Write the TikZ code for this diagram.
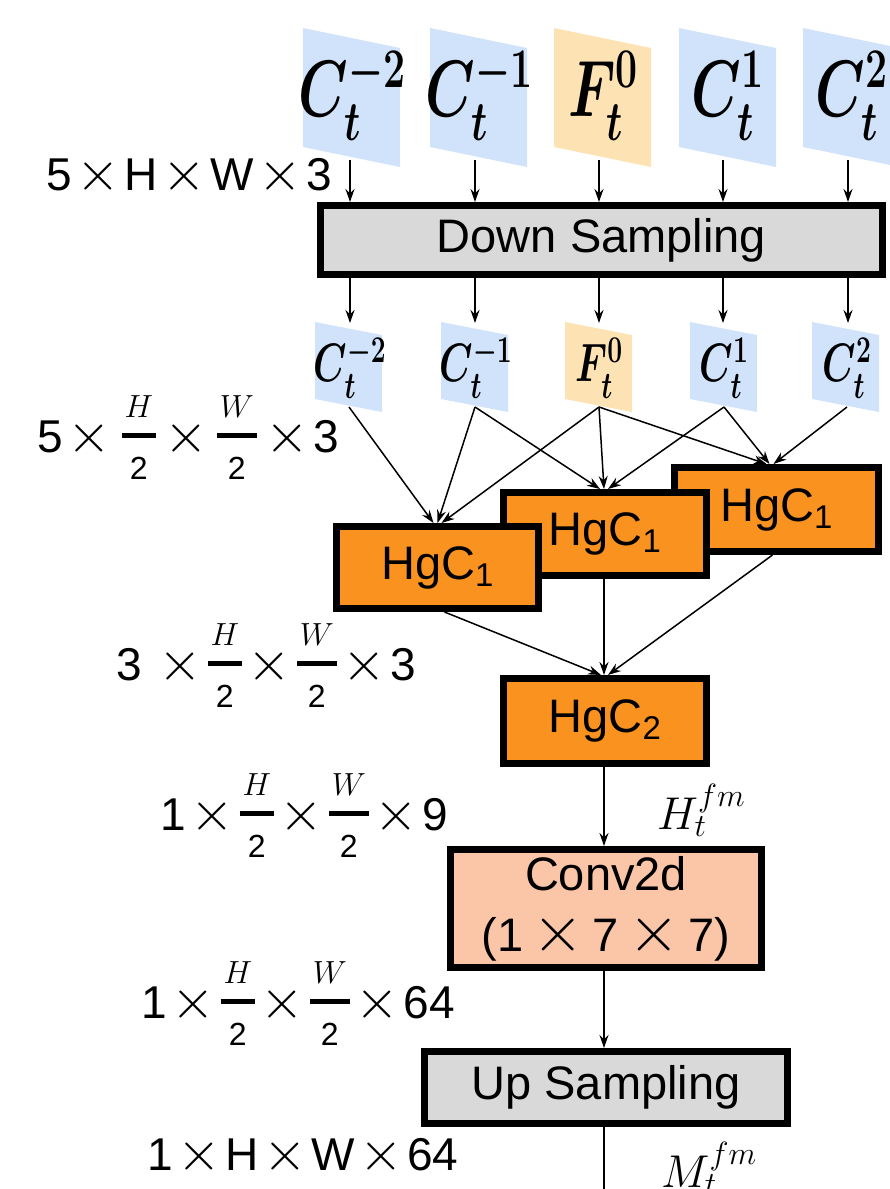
\RequirePackage{fix-cm}
\documentclass[tikz,border=0pt]{standalone}
\usepackage{amsmath}
\usepackage{fontspec}
\setmainfont{Liberation Sans}
\usetikzlibrary{arrows.meta}
\definecolor{fblue}{HTML}{D0E3FA}
\definecolor{forg}{HTML}{FDE3B3}
\definecolor{hgc}{HTML}{F9921F}
\definecolor{convc}{HTML}{FBC6A8}
\definecolor{gbox}{HTML}{D9D9D9}
\newcommand\hwfrac[1]{\raisebox{9pt}{\fontsize{32}{32}\selectfont$\displaystyle\genfrac{}{}{5pt}{}{\kern3pt#1\kern3pt}{\vrule height27pt width0pt\mathrm{2}}$}}
\newcommand\X{\hspace{4.5pt}{\fontsize{56}{56}\selectfont$\times$}\hspace{4.5pt}}
\newcommand\CX{\smash{\fontsize{66}{66}\selectfont$\times$}}
\begin{document}
\begin{tikzpicture}[x=1pt,y=-1pt,
  blk/.style={draw, line width=7pt, inner sep=0pt, font=\fontsize{47}{47}\selectfont},
  arr/.style={-{Stealth[length=13pt,width=9pt]}, line width=1.5pt},
  ln/.style={line width=1.5pt},
  dimlab/.style={anchor=base west, inner sep=0pt, font=\fontsize{46}{46}\selectfont},
  biglab/.style={inner sep=0pt, font=\fontsize{80}{80}\selectfont\boldmath},
  smlab/.style={inner sep=0pt, font=\fontsize{54}{54}\selectfont\boldmath},
  mlab/.style={anchor=base west, inner sep=0pt, font=\fontsize{46}{46}\selectfont}]
\useasboundingbox (0,0) rectangle (890,1189);
\clip (0,0) rectangle (890,1189);
% top frames
\foreach \L/\c in {303/fblue,430/fblue,554/forg,679/fblue,803/fblue}
  \fill[\c] (\L,28) -- (\L+97,48) -- (\L+97,167) -- (\L,147) -- cycle;
\node[biglab] (t1) at (352,96) {\scalebox{0.7}[1]{$C_t^{-2}$}};
\node[biglab] (t2) at (479,96) {\scalebox{0.7}[1]{$C_t^{-1}$}};
\node[biglab] (t3) at (603,96) {\scalebox{0.7}[1]{$F_t^{0}$}};
\node[biglab] (t4) at (728,96) {\scalebox{0.7}[1]{$C_t^{1}$}};
\node[biglab] (t5) at (852,96) {\scalebox{0.7}[1]{$C_t^{2}$}};
\coordinate (t1s) at (350,160);
\coordinate (t2s) at (475,160);
\coordinate (t3s) at (599,160);
\coordinate (t4s) at (723,160);
\coordinate (t5s) at (848,160);
% down sampling
\node[blk, fill=gbox, minimum width=562pt, minimum height=69pt] (ds) at (601.5,240) {Down Sampling};
\foreach \i in {1,...,5} \draw[arr] (t\i s) -- (ds.north -| t\i s);
% small frames
\foreach \L/\c in {315/fblue,441/fblue,565/forg,690/fblue,812/fblue}
  \fill[\c] (\L,322) -- (\L+67,335) -- (\L+67,412) -- (\L,399) -- cycle;
\node[smlab] (s1) at (350,368) {\scalebox{0.7}[1]{$C_t^{-2}$}};
\node[smlab] (s2) at (476,368) {\scalebox{0.7}[1]{$C_t^{-1}$}};
\node[smlab] (s3) at (599,368) {\scalebox{0.7}[1]{$F_t^{0}$}};
\node[smlab] (s4) at (724,368) {\scalebox{0.7}[1]{$C_t^{1}$}};
\node[smlab] (s5) at (847,368) {\scalebox{0.7}[1]{$C_t^{2}$}};
\coordinate (s1t) at (350,323);
\coordinate (s2t) at (475,323);
\coordinate (s3t) at (599,323);
\coordinate (s4t) at (723,323);
\coordinate (s5t) at (848,323);
\coordinate (s1b) at (349,407);
\coordinate (s2b) at (475,407);
\coordinate (s3b) at (599,407);
\coordinate (s4b) at (724,407);
\coordinate (s5b) at (847,407);
\foreach \i in {1,...,5} \draw[arr] (ds.south -| s\i t) -- (s\i t);
% HgC1 boxes
\node[blk, fill=hgc, minimum width=204pt, minimum height=84pt] (hC) at (776.5,509.5) {HgC\textsubscript{1}};
\node[blk, fill=hgc, minimum width=203pt, minimum height=83pt] (hB) at (605,534) {HgC\textsubscript{1}};
\node[blk, fill=hgc, minimum width=202pt, minimum height=82pt] (hA) at (437.5,567.5) {HgC\textsubscript{1}};
\draw[arr] (s1b) -- ([xshift=-4pt]hA.north);
\draw[arr] (s2b) -- ([xshift=0pt]hA.north);
\draw[arr] (s3b) -- ([xshift=4pt]hA.north);
\draw[arr] (s2b) -- ([xshift=-5pt]hB.north);
\draw[arr] (s3b) -- ([xshift=-1pt]hB.north);
\draw[arr] (s4b) -- ([xshift=3pt]hB.north);
\draw[arr] (s3b) -- ([xshift=-10pt]hC.north);
\draw[arr] (s4b) -- ([xshift=-7pt]hC.north);
\draw[arr] (s5b) -- ([xshift=-3pt]hC.north);
% HgC2
\node[blk, fill=hgc, minimum width=203pt, minimum height=85pt] (h2) at (605,721) {HgC\textsubscript{2}};
\draw[arr] ([xshift=7pt]hA.south) -- ([xshift=-4pt]h2.north);
\draw[arr] ([xshift=-1pt]hB.south) -- ([xshift=-1pt]h2.north);
\draw[arr] ([xshift=-4pt]hC.south) -- ([xshift=3pt]h2.north);
% Conv2d
\node[blk, fill=convc, minimum width=311pt, minimum height=118pt, align=center] (cv) at (606,908.5)
  {Conv2d\\[14pt](1\hspace{9pt}\CX\hspace{9pt}7\hspace{9pt}\CX\hspace{9pt}7)};
\draw[arr] ([xshift=-1pt]h2.south) -- ([xshift=-2pt]cv.north);
\node[mlab] (hfm) at (657,829) {$H_t^{fm}$};
% Up sampling
\node[blk, fill=gbox, minimum width=363pt, minimum height=72pt] (up) at (606,1087.5) {Up Sampling};
\draw[arr] ([xshift=-2pt]cv.south) -- ([xshift=-2pt]up.north);
\coordinate (bot) at (604,1200);
\draw[ln] ([xshift=-2pt]up.south) -- (bot);
\node[mlab] (mfm) at (661,1187) {$M_t^{fm}$};
% dimension labels
\node[dimlab] (d1) at (46,190) {5\X H\X W\X 3};
\node[dimlab] (d2) at (37,452) {5\X\hspace{5pt}\hwfrac{H}\hspace{3pt}\X\hspace{3pt}\hwfrac{W}\hspace{3pt}\X 3};
\node[dimlab] (d3) at (116,680) {3\hspace{12pt}\X\hwfrac{H}\X\hwfrac{W}\X 3};
\node[dimlab] (d4) at (160,830) {1\X\hwfrac{H}\X\hwfrac{W}\X 9};
\node[dimlab] (d5) at (141,1018) {1\X\hwfrac{H}\X\hwfrac{W}\X 64};
\node[dimlab] (d6) at (147,1170) {1\X H\X W\X 64};
\end{tikzpicture}
\end{document}
